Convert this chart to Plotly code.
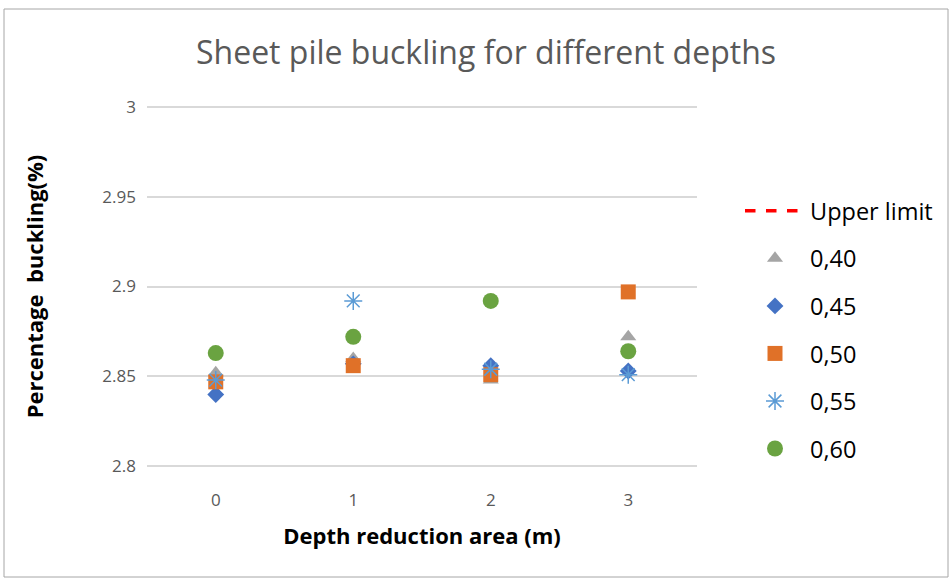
import plotly.graph_objects as go

# Depth reduction area (m)
depths = [0, 1, 2, 3]

# Percentage buckling per sheet pile thickness series
buckling_040 = [2.852, 2.860, 2.848, 2.872]
buckling_045 = [2.840, 2.857, 2.856, 2.853]
buckling_050 = [2.847, 2.856, 2.851, 2.897]
buckling_055 = [2.848, 2.892, 2.854, 2.851]
buckling_060 = [2.863, 2.872, 2.892, 2.864]

# Upper limit has no points inside the displayed range, only its legend entry shows
upper_x = [None]
upper_y = [None]

series = [
    ("0,40", buckling_040, "triangle-up", "#A5A5A5", 14),
    ("0,45", buckling_045, "diamond", "#4472C4", 13),
    ("0,50", buckling_050, "square", "#E07128", 15),
    ("0,55", buckling_055, "asterisk-open", "#5B9BD5", 15),
    ("0,60", buckling_060, "circle", "#6AA341", 16),
]

fig = go.Figure()
fig.add_trace(go.Scatter(
    x=upper_x, y=upper_y, mode="lines", name="Upper limit",
    line=dict(color="#FF0000", width=3.5, dash="dash"),
    legendgroup="ul", showlegend=True,
))
for name, vals, sym, col, size in series:
    line_w = 1.5 if sym == "asterisk-open" else 0
    fig.add_trace(go.Scatter(
        x=depths, y=vals, mode="markers", name=name, legendgroup=name,
        marker=dict(symbol=sym, color=col, size=size,
                    line=dict(color=col, width=line_w)),
    ))

font_main = "Open Sans, Liberation Sans, sans-serif"

# plot area spans 103..470 px vertically, 147..697 px horizontally
PT, PB, PL, PR = 103, 470, 147, 697
PH, PW = PB - PT, PR - PL

fig.update_layout(
    width=949, height=578,
    margin=dict(l=PL, r=949 - PR, t=PT, b=578 - PB, autoexpand=False),
    paper_bgcolor="white", plot_bgcolor="white",
    font=dict(family=font_main, color="#595959"),
    title=dict(text="Sheet pile buckling for different depths",
               x=486 / 949, xanchor="center", y=1 - 53 / 578, yanchor="middle",
               font=dict(size=32, color="#595959", family=font_main)),
    xaxis=dict(range=[-0.5, 3.5], tickvals=depths, showgrid=False,
               zeroline=False, showline=False, ticks="",
               ticklabelstandoff=18,
               tickfont=dict(size=17, color="#595959"),
               title=dict(text="<b>Depth reduction area (m)</b>",
                          font=dict(size=22, color="#000000"), standoff=18)),
    yaxis=dict(range=[2.798, 3.002], tickvals=[2.8, 2.85, 2.9, 2.95, 3.0],
               ticktext=["2.8", "2.85", "2.9", "2.95", "3"],
               showgrid=True,
               gridcolor="#D9D9D9", gridwidth=1.5, zeroline=False,
               showline=False, ticks="", ticklabelstandoff=10,
               tickfont=dict(size=17, color="#595959"),
               title=dict(text="<b>Percentage\u00a0 buckling(%)</b>",
                          font=dict(size=22, color="#000000"), standoff=52)),
    legend=dict(x=(740 - PL) / PW, xanchor="left", y=(PB - 189) / PH,
                yanchor="top",
                font=dict(size=23.5, color="#000000"),
                tracegroupgap=14, itemwidth=60,
                bgcolor="rgba(0,0,0,0)"),
    showlegend=True,
)

# Outer chart border
fig.add_shape(type="rect", xref="paper", yref="paper",
              x0=(4 - PL) / PW, x1=(948 - PL) / PW,
              y0=(PB - 577) / PH, y1=(PB - 9) / PH,
              line=dict(color="#A6A6A6", width=1), layer="below")

fig.write_html("out.html")
